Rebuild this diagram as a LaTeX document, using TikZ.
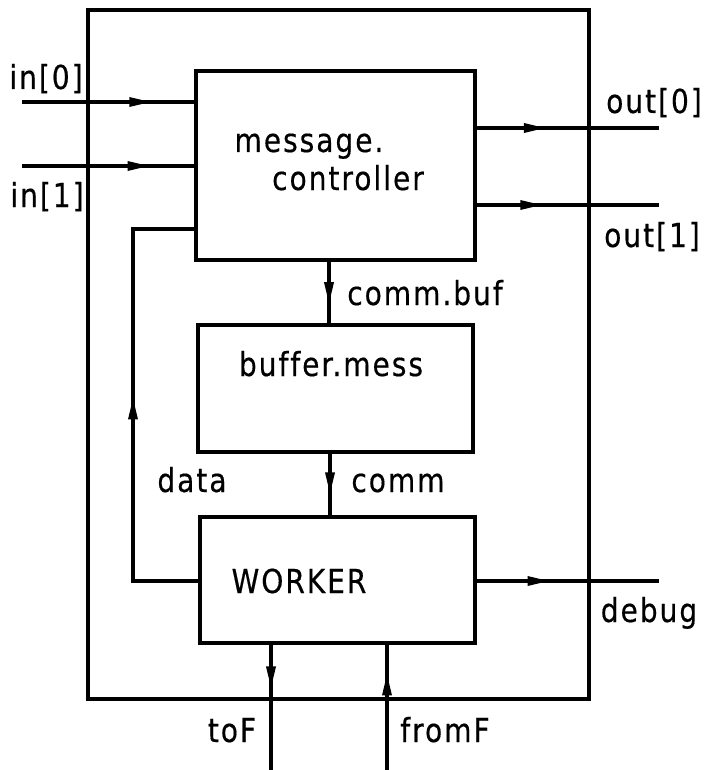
\documentclass[tikz,border=0pt]{standalone}
\usepackage{fontspec}
\setmainfont{DejaVu Sans}[FakeStretch=0.85,LetterSpace=6,FakeBold=0.4,Ligatures=NoCommon]
\usetikzlibrary{arrows.meta,decorations.markings,positioning}

\begin{document}
\begin{tikzpicture}[x=1pt,y=-1pt]
\tikzstyle{box}=[rectangle, draw=black, line width=3.2pt, inner sep=0pt]
\tikzstyle{connect}=[line width=3.2pt]
\tikzstyle{lbl}=[font=\fontsize{33}{36}\selectfont, inner sep=0pt, anchor=base]
\tikzset{flow/.style={connect, postaction={decorate},
  decoration={markings, mark=at position #1 with {\arrow{Triangle[length=22pt,width=9pt]}}}}}
  \useasboundingbox (0,0) rectangle (708,770);
  % boxes
  \node[box, minimum width=501pt, minimum height=689pt] (outer) at (338.5,354.5) {};
  \node[box, fill=white, minimum width=279pt, minimum height=189pt] (mc) at (335.5,165.5) {};
  \node[box, fill=white, minimum width=275pt, minimum height=127pt] (buf) at (335.5,388.5) {};
  \node[box, fill=white, minimum width=275pt, minimum height=126pt] (worker) at (337.5,580) {};
  \node[lbl] (mctext1) at (309,152) {message.};
  \node[lbl] (mctext2) at (348,190) {controller};
  \node[lbl] (buftext) at (331,376) {buffer.mess};
  \node[lbl] (wtext) at (299,593) {WORKER};
  % free ends
  \coordinate (in0) at (22,102);
  \coordinate (in1) at (22,166);
  \coordinate (out0) at (659,128);
  \coordinate (out1) at (659,205);
  \coordinate (dbg) at (659,581);
  \coordinate (toF) at (271,770);
  \coordinate (fromF) at (387,770);
  \coordinate (dleft) at (133,581);
  % connectors
  \draw[flow=0.75] (in0) -- (mc.west |- in0);
  \draw[flow=0.74] (in1) -- (mc.west |- in1);
  \draw[flow=0.38] (mc.east |- out0) -- (out0);
  \draw[flow=0.36] (mc.east |- out1) -- (out1);
  \draw[flow=0.40] (worker.east |- dbg) -- (dbg);
  \draw[flow=0.69] (mc.south -| 329,0) -- (buf.north -| 329,0);
  \draw[flow=0.66] (buf.south -| 330,0) -- (worker.north -| 330,0);
  \draw[flow=0.35] (worker.south -| toF) -- (toF);
  \draw[flow=0.77] (fromF) -- (worker.south -| fromF);
  \draw[flow=0.52] (worker.west |- dleft) -- (dleft) -- (dleft |- 0,229) -- (mc.west |- 0,229);
  % labels
  \node[lbl] (l_in0) at (46,89) {in[0]};
  \node[lbl] (l_in1) at (47,207) {in[1]};
  \node[lbl] (l_out0) at (654,113) {out[0]};
  \node[lbl] (l_out1) at (652,247) {out[1]};
  \node[lbl] (l_cbuf) at (425,305) {comm.buf};
  \node[lbl] (l_data) at (192,492) {data};
  \node[lbl] (l_comm) at (398,492) {comm};
  \node[lbl] (l_dbg) at (649,622) {debug};
  \node[lbl] (l_toF) at (232,742) {toF};
  \node[lbl] (l_fromF) at (445,742) {fromF};
\end{tikzpicture}
\end{document}
